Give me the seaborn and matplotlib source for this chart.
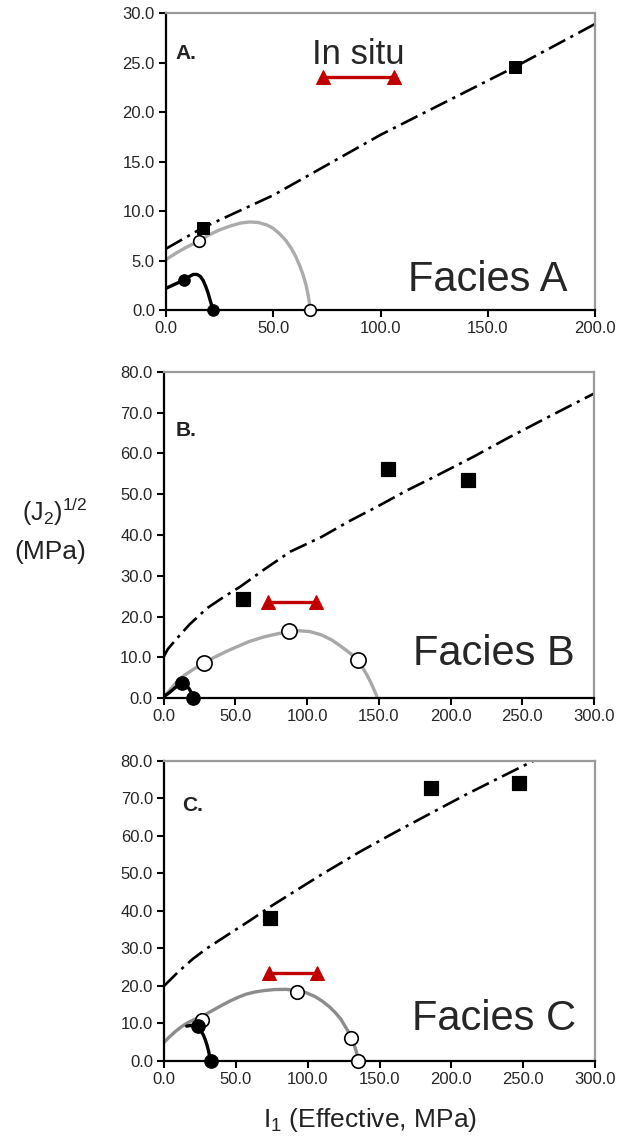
import matplotlib
matplotlib.use('Agg')
import matplotlib.pyplot as plt
import seaborn as sns

sns.set_style('white')
plt.rcParams['font.family'] = ['Liberation Sans', 'DejaVu Sans']
plt.rcParams['mathtext.fontset'] = 'custom'
plt.rcParams['mathtext.rm'] = 'Liberation Sans'
plt.rcParams['mathtext.it'] = 'Liberation Sans'

# ---- Facies A ----
a_fail_x = [0, 17, 50, 100, 163, 200]
a_fail_y = [6.2, 8.3, 11.6, 17.7, 24.6, 28.9]
a_sq_x = [17.4, 162.7]
a_sq_y = [8.25, 24.6]
a_gray_x = [0, 5, 10, 15.5, 20, 25, 30, 35, 39, 43, 47, 50, 53, 56, 58.5,
            60.5, 62.5, 64, 65.2, 66.2, 66.8, 67]
a_gray_y = [5.1, 5.8, 6.4, 7.0, 7.6, 8.1, 8.5, 8.8, 8.9, 8.85, 8.6, 8.25, 7.7,
            7.0, 6.2, 5.4, 4.4, 3.5, 2.6, 1.6, 0.8, 0]
a_open_x = [15.5, 67]
a_open_y = [7.0, 0]
a_blk_x = [0, 2, 4, 6, 8.5, 10.5, 12.7, 14.5, 16, 17.3, 18.5, 19.5, 20.3, 21, 21.5, 21.7]
a_blk_y = [2.2, 2.4, 2.6, 2.8, 3.0, 3.35, 3.6, 3.6, 3.4, 3.0, 2.4, 1.8, 1.2, 0.7, 0.3, 0]
a_fill_x = [8.5, 21.7]
a_fill_y = [3.0, 0]

# ---- Facies B ----
b_fail_x = [0, 3, 9.3, 18, 30.2, 42, 53.4, 70, 88.3, 110, 130, 148.6, 170, 190,
            216, 240, 270, 300]
b_fail_y = [10.0, 12.0, 14.6, 18.0, 22.0, 24.8, 27.3, 31.5, 35.9, 39.5, 43.5,
            46.9, 51.0, 54.5, 59.2, 63.8, 69.3, 74.7]
b_sq_x = [55.7, 156.7, 212.5]
b_sq_y = [24.4, 56.3, 53.4]
b_gray_x = [0, 4, 9.3, 15, 22, 28, 35, 43, 50, 60, 70, 80, 88, 95, 102, 110,
            117, 124, 130, 135, 139, 142, 144.5, 146.5, 148, 149]
b_gray_y = [0, 1.8, 4.0, 5.7, 7.3, 8.6, 9.9, 11.3, 12.4, 13.9, 15.0, 15.8, 16.3,
            16.5, 16.3, 15.5, 14.3, 12.6, 11.0, 9.3, 7.3, 5.5, 3.8, 2.2, 1.0, 0]
b_open_x = [28, 87.6, 135.4]
b_open_y = [8.6, 16.4, 9.3]
b_blk_x = [0, 4, 8, 12.8, 15.5, 18, 19.7, 20.9]
b_blk_y = [0.3, 1.3, 2.5, 3.8, 3.3, 2.2, 1.1, 0]
b_fill_x = [12.8, 20.9]
b_fill_y = [3.8, 0]

# ---- Facies C ----
c_fail_x = [0, 10, 20, 29.7, 45, 60, 73.8, 90, 110, 136.4, 160, 187.4, 210,
            235, 257, 270]
c_fail_y = [20.0, 23.8, 27.2, 30.0, 33.8, 37.5, 41.1, 45.0, 49.8, 55.8, 60.8,
            66.4, 71.0, 75.8, 80.0, 82.5]
c_sq_x = [73.8, 185.8, 247.1]
c_sq_y = [38.2, 72.9, 74.0]
c_gray_x = [0, 4, 7.7, 12, 16.9, 22, 26, 33, 40, 46, 51.7, 57, 63.3, 70, 77,
            85, 92, 99, 105, 110, 115, 119, 123, 126, 128.5, 130.5, 132.3,
            133.7, 134.7, 135.3]
c_gray_y = [5.0, 6.5, 7.8, 9.1, 10.3, 11.2, 11.8, 13.3, 14.8, 16.0, 17.0, 17.8,
            18.4, 18.8, 19.05, 19.1, 18.8, 18.2, 17.2, 16.0, 14.5, 13.0, 11.2,
            9.3, 7.7, 6.0, 4.3, 2.7, 1.3, 0]
c_open_x = [26.2, 92.3, 130.2, 135.3]
c_open_y = [10.9, 18.5, 6.2, 0]
c_blk_x = [15.8, 19, 23.4, 25.5, 27.3, 28.7, 29.8, 30.8, 31.6, 32.4]
c_blk_y = [9.3, 9.5, 9.3, 8.2, 7.0, 5.7, 4.4, 3.0, 1.6, 0]
c_fill_x = [23.4, 32.4]
c_fill_y = [9.3, 0]

# in situ stress range (same in all panels)
situ_x = [73, 106.5]
situ_y = [23.5, 23.5]

panels = [
    dict(rect=[0.2656, 0.728, 0.6864, 0.2605], xmax=200, ymax=30, ystep=5,
         fail=(a_fail_x, a_fail_y), sq=(a_sq_x, a_sq_y), gray=(a_gray_x, a_gray_y),
         opn=(a_open_x, a_open_y), blk=(a_blk_x, a_blk_y), fill=(a_fill_x, a_fill_y),
         gcol='#ababab', ms_open=70, ms_fill=70, ms_sq=80,
         tag='A.', tagpos=(0.021, 0.865), name='Facies A', namepos=(0.935, 0.065)),
    dict(rect=[0.2616, 0.3877, 0.6888, 0.286], xmax=300, ymax=80, ystep=10,
         fail=(b_fail_x, b_fail_y), sq=(b_sq_x, b_sq_y), gray=(b_gray_x, b_gray_y),
         opn=(b_open_x, b_open_y), blk=(b_blk_x, b_blk_y), fill=(b_fill_x, b_fill_y),
         gcol='#a8a8a8', ms_open=120, ms_fill=95, ms_sq=115,
         tag='B.', tagpos=(0.029, 0.821), name='Facies B', namepos=(0.956, 0.101)),
    dict(rect=[0.2624, 0.0693, 0.6896, 0.2632], xmax=300, ymax=80, ystep=10,
         fail=(c_fail_x, c_fail_y), sq=(c_sq_x, c_sq_y), gray=(c_gray_x, c_gray_y),
         opn=(c_open_x, c_open_y), blk=(c_blk_x, c_blk_y), fill=(c_fill_x, c_fill_y),
         gcol='#8c8c8c', ms_open=95, ms_fill=95, ms_sq=115,
         tag='C.', tagpos=(0.043, 0.852), name='Facies C', namepos=(0.957, 0.103)),
]

fig = plt.figure(figsize=(6.25, 11.4), dpi=100)

for p in panels:
    ax = fig.add_axes(p['rect'])
    sns.lineplot(x=p['fail'][0], y=p['fail'][1], ax=ax, sort=False, estimator=None,
                 color='black', lw=1.9, linestyle=(0, (7, 2.2, 1.2, 2.2)))
    sns.lineplot(x=p['gray'][0], y=p['gray'][1], ax=ax, sort=False, estimator=None,
                 color=p['gcol'], lw=2.4)
    sns.lineplot(x=p['blk'][0], y=p['blk'][1], ax=ax, sort=False, estimator=None,
                 color='black', lw=2.4)
    sns.lineplot(x=situ_x, y=situ_y, ax=ax, sort=False, estimator=None,
                 color='#c00000', lw=2.4, marker='^', markersize=10,
                 markeredgecolor='#c00000')
    sns.scatterplot(x=p['sq'][0], y=p['sq'][1], ax=ax, marker='s', s=p['ms_sq'],
                    color='black', edgecolor='black', zorder=5, clip_on=False)
    sns.scatterplot(x=p['opn'][0], y=p['opn'][1], ax=ax, marker='o', s=p['ms_open'],
                    color='white', edgecolor='black', linewidth=1.2, zorder=5, clip_on=False)
    sns.scatterplot(x=p['fill'][0], y=p['fill'][1], ax=ax, marker='o', s=p['ms_fill'],
                    color='black', edgecolor='black', zorder=6, clip_on=False)

    ax.set_xlim(0, p['xmax'])
    ax.set_ylim(0, p['ymax'])
    ax.set_xticks(range(0, p['xmax'] + 1, 50))
    ax.set_yticks(range(0, p['ymax'] + 1, p['ystep']))
    ax.set_xticklabels([f'{v:.1f}' for v in range(0, p['xmax'] + 1, 50)])
    ax.set_yticklabels([f'{v:.1f}' for v in range(0, p['ymax'] + 1, p['ystep'])])
    ax.tick_params(axis='both', direction='out', length=5, width=1.5, color='black',
                   labelsize=12, pad=3, bottom=True, left=True)
    for side in ['left', 'bottom']:
        ax.spines[side].set_color('black')
        ax.spines[side].set_linewidth(1.6)
    for side in ['top', 'right']:
        ax.spines[side].set_color('#9a9a9a')
        ax.spines[side].set_linewidth(1.6)
    ax.set_xlabel('')
    ax.set_ylabel('')

    ax.text(p['tagpos'][0], p['tagpos'][1], p['tag'], transform=ax.transAxes,
            fontsize=15, fontweight='bold', color='#222222', ha='left', va='center')
    ax.text(p['namepos'][0], p['namepos'][1], p['name'], transform=ax.transAxes,
            fontsize=30, ha='right', va='baseline')
    if p['tag'] == 'A.':
        ax.text(89.6, 25.8, 'In situ', fontsize=25, ha='center', va='center')

fig.text(0.035, 1 - 512 / 1140, '(J$_\\mathrm{2}$)$^\\mathrm{1/2}$', fontsize=18,
         ha='left', va='center', color='#222222')
fig.text(0.081, 1 - 552 / 1140, '(MPa)', fontsize=19, ha='center', va='center',
         color='#222222')
fig.text(370 / 625, 1 - 1120 / 1140, 'I$_\\mathrm{1}$ (Effective, MPa)', fontsize=19,
         ha='center', va='center', color='#222222')

fig.savefig('out.png', dpi=100)
